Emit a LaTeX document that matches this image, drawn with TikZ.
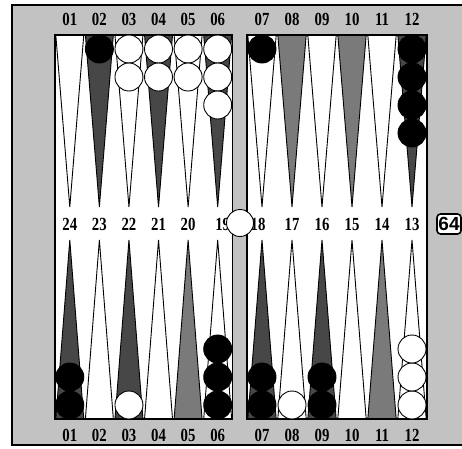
\documentclass[tikz,border=0pt]{standalone}
\usepackage{fontspec}
\setmainfont{Liberation Serif}
\newfontfamily\cubefont{Liberation Sans}
\begin{document}
\begin{tikzpicture}[x=1pt,y=-1pt,
  felt/.style={fill=black!24},
  boardedge/.style={draw=black,line width=1.2pt},
  ptline/.style={draw=black,line width=0.9pt,line join=miter},
  lightpt/.style={ptline,fill=white},
  darkpt/.style={ptline,fill=black!72},
  medpt/.style={ptline,fill=black!52},
  wchk/.style={circle,draw=black,line width=0.9pt,fill=white,minimum size=28pt,inner sep=0pt},
  bchk/.style={circle,draw=black,line width=0.9pt,fill=black,minimum size=28pt,inner sep=0pt},
  lab/.style={font=\fontsize{18.5}{18.5}\selectfont\bfseries,inner sep=0pt},
  cube/.style={draw=black,line width=1.6pt,fill=white,rounded corners=3.5pt,minimum width=24pt,minimum height=20pt,inner sep=0pt,font=\cubefont\fontsize{19}{19}\selectfont\bfseries}
]
\useasboundingbox (0,0) rectangle (462,448);
\fill[white] (0,0) rectangle (462,448);
% felt
\fill[felt] (12,5) rectangle (462,445);
\draw[line width=1.4pt] (462,5) -- (12,5) -- (12,445) -- (462,445);
% boards
\fill[white] (55,35) rectangle (232.5,419);
\fill[white] (247,35) rectangle (427,419);
% left board points: width 29.58
\foreach \i/\ts/\bs in {1/lightpt/darkpt,2/darkpt/lightpt,3/lightpt/darkpt,4/darkpt/lightpt,5/lightpt/medpt,6/darkpt/lightpt}{
  \pgfmathsetmacro{\xa}{55+29.58*(\i-1)}
  \pgfmathsetmacro{\xb}{55+29.58*\i}
  \pgfmathsetmacro{\xc}{55+29.58*(\i-0.5)}
  \path[\ts] (\xa+0.8,35) -- (\xc,207) -- (\xb-0.8,35) -- cycle;
  \path[\bs] (\xa+0.8,419) -- (\xc,240) -- (\xb-0.8,419) -- cycle;
}
% right board points: width 30
\foreach \i/\ts/\bs in {1/lightpt/darkpt,2/medpt/lightpt,3/lightpt/darkpt,4/medpt/lightpt,5/lightpt/medpt,6/darkpt/lightpt}{
  \pgfmathsetmacro{\xa}{247+30*(\i-1)}
  \pgfmathsetmacro{\xb}{247+30*\i}
  \pgfmathsetmacro{\xc}{247+30*(\i-0.5)}
  \path[\ts] (\xa+0.8,35) -- (\xc,207) -- (\xb-0.8,35) -- cycle;
  \path[\bs] (\xa+0.8,419) -- (\xc,240) -- (\xb-0.8,419) -- cycle;
}
\draw[boardedge] (55,35) rectangle (232.5,419);
\draw[boardedge] (247,35) rectangle (427,419);
% labels
\foreach \i/\t/\m/\mx in {1/01/24/0,2/02/23/0,3/03/22/0,4/04/21/0,5/05/20/0,6/06/19/5}{
  \pgfmathsetmacro{\xc}{55+29.58*(\i-0.5)}
  \node[lab] (tl\i) at (\xc,19) {\scalebox{0.8}[1]{\t}};
  \node[lab] (bl\i) at (\xc,435) {\scalebox{0.8}[1]{\t}};
  \node[lab] (ml\i) at (\xc+\mx,224) {\scalebox{0.8}[1]{\m}};
}
\foreach \i/\t/\m/\mx in {1/07/18/-4,2/08/17/0,3/09/16/0,4/10/15/0,5/11/14/0,6/12/13/0}{
  \pgfmathsetmacro{\xc}{247+30*(\i-0.5)}
  \node[lab] (tr\i) at (\xc,19) {\scalebox{0.8}[1]{\t}};
  \node[lab] (br\i) at (\xc,435) {\scalebox{0.8}[1]{\t}};
  \node[lab] (mr\i) at (\xc+\mx,224) {\scalebox{0.8}[1]{\m}};
}
% checkers: top left
\node[bchk] (c02a) at (99.4,49) {};
\node[wchk] (c03a) at (128.95,49) {};
\node[wchk] (c03b) at (128.95,77) {};
\node[wchk] (c04a) at (158.5,49) {};
\node[wchk] (c04b) at (158.5,77) {};
\node[wchk] (c05a) at (188.1,49) {};
\node[wchk] (c05b) at (188.1,77) {};
\node[wchk] (c06a) at (217.7,49) {};
\node[wchk] (c06b) at (217.7,77) {};
\node[wchk] (c06c) at (217.7,105) {};
% top right
\node[bchk] (c07a) at (262,49) {};
\node[bchk] (c12a) at (412,49) {};
\node[bchk] (c12b) at (412,77) {};
\node[bchk] (c12c) at (412,105) {};
\node[bchk] (c12d) at (412,133) {};
% bottom left
\node[bchk] (d01a) at (69.8,405) {};
\node[bchk] (d01b) at (69.8,377) {};
\node[wchk] (d03a) at (128.95,405) {};
\node[bchk] (d06a) at (217.7,405) {};
\node[bchk] (d06b) at (217.7,377) {};
\node[bchk] (d06c) at (217.7,349) {};
% bottom right
\node[bchk] (d07a) at (262,405) {};
\node[bchk] (d07b) at (262,377) {};
\node[wchk] (d08a) at (292,405) {};
\node[bchk] (d09a) at (322,405) {};
\node[bchk] (d09b) at (322,377) {};
\node[wchk] (d12a) at (412,405) {};
\node[wchk] (d12b) at (412,377) {};
\node[wchk] (d12c) at (412,349) {};
% bar checker
\node[wchk,minimum size=27pt] (bar) at (240,223) {};
% cube
\node[cube] (cube) at (449,224) {64};
\end{tikzpicture}
\end{document}
